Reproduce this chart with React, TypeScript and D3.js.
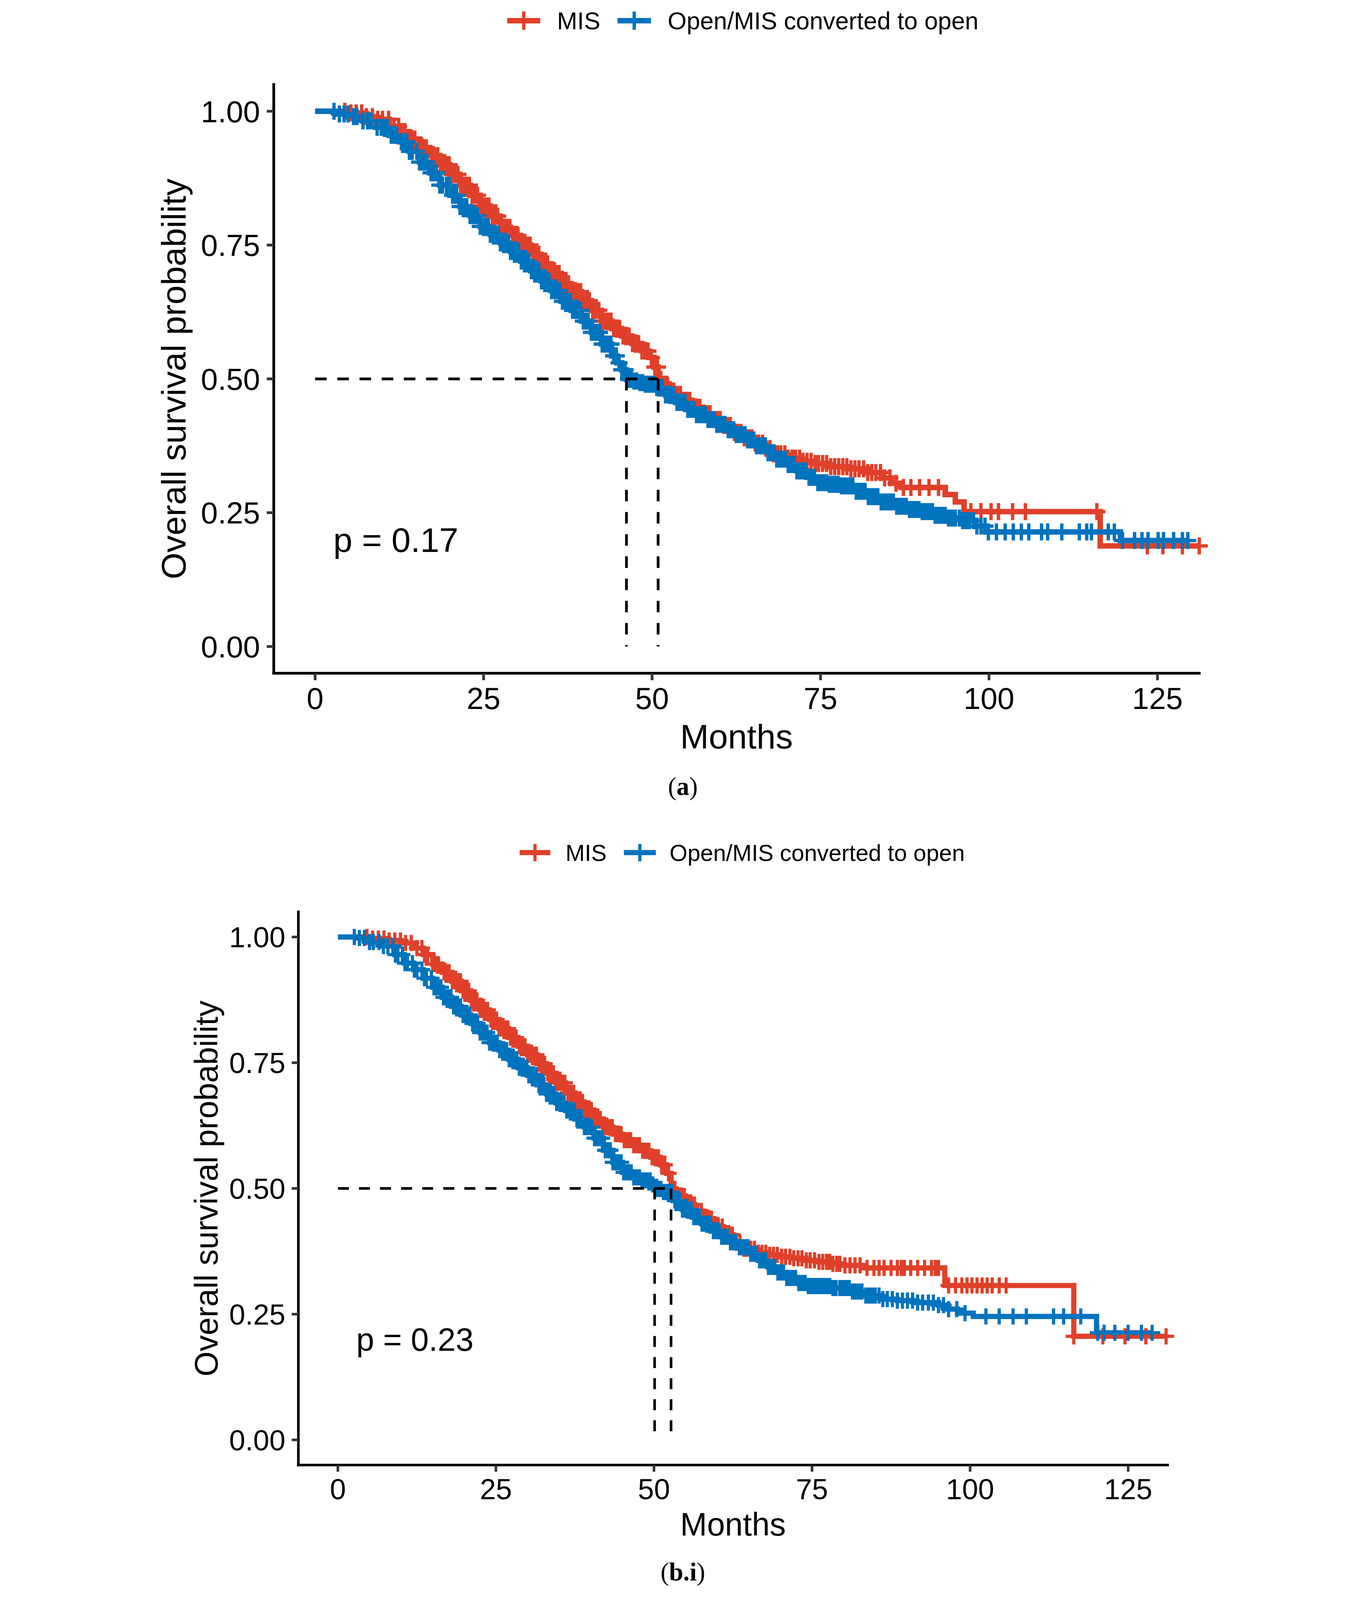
import React from 'react'
import * as d3 from 'd3'

const MIS_COLOR = '#E0402A'
const OPEN_COLOR = '#0073BE'

// Panel (a): Kaplan-Meier step points (months, survival) and censor times
const aMisTime = [0, 5, 7, 9, 11, 12.5, 14, 15.5, 17, 18.5, 20, 21.5, 23, 24.5, 26, 27.5, 29, 30.5, 32, 33.5, 35, 36.5, 38, 39.5, 41, 42.5, 44, 45.5, 47, 48.5, 49.5, 50.3, 50.9, 51.6, 52.3, 53, 54.5, 56, 57.5, 59, 60.5, 62, 63.5, 65, 66.5, 68, 70, 72, 74, 76, 79, 82, 84, 85.5, 87, 93.5, 95, 96.3, 116.5]
const aMisSurv = [1, 0.997, 0.99, 0.985, 0.972, 0.962, 0.948, 0.932, 0.917, 0.9, 0.882, 0.862, 0.843, 0.823, 0.804, 0.783, 0.768, 0.75, 0.733, 0.715, 0.697, 0.678, 0.663, 0.646, 0.628, 0.608, 0.594, 0.58, 0.566, 0.552, 0.54, 0.522, 0.499, 0.49, 0.48, 0.471, 0.46, 0.447, 0.435, 0.424, 0.413, 0.4, 0.39, 0.38, 0.37, 0.36, 0.352, 0.346, 0.342, 0.336, 0.332, 0.325, 0.315, 0.305, 0.297, 0.284, 0.27, 0.252, 0.188]
const aMisCensor = [4.4, 5.3, 6.1, 6.9, 7.6, 8.5, 9.3, 10.0, 10.9, 11.7, 12.4, 13.3, 14.1, 14.8, 15.7, 16.5, 17.3, 18.2, 19.0, 19.9, 20.7, 21.6, 22.4, 23.3, 24.1, 25.0, 25.8, 26.7, 27.5, 28.4, 29.3, 30.1, 31.0, 31.9, 32.7, 33.6, 34.5, 35.4, 36.2, 37.1, 38.0, 38.9, 39.8, 40.7, 41.6, 42.5, 43.4, 44.3, 45.2, 46.1, 47.1, 48.0, 48.9, 49.9, 50.8, 51.8, 52.7, 53.7, 54.6, 55.6, 56.6, 57.6, 58.6, 59.6, 60.6, 61.6, 62.7, 63.7, 64.8, 65.8, 66.9, 68.0, 69.1, 70.2, 71.3, 72.4, 73.6, 74.7, 75.9, 77.1, 78.3, 79.5, 80.7, 82.0, 83.2, 84.5, 86.2, 87.3, 88.4, 89.7, 91.1, 92.5, 97.3, 98.8, 100.3, 101.4, 103.5, 105.4, 116.0, 123.5, 125.8, 128.7, 131.2]
const aMisCensorMore = [12.8, 14.5, 16.1, 17.7, 18.6, 19.5, 20.3, 21.2, 22.0, 22.9, 23.7, 24.6, 25.4, 26.3, 27.1, 28.0, 28.9, 29.7, 30.6, 31.5, 32.3, 33.2, 34.1, 35.0, 35.8, 36.7, 37.6, 38.5, 39.4, 40.3, 41.2, 42.1, 43.0, 43.9, 44.8, 45.7, 46.6, 47.6, 48.5, 49.4, 50.4, 51.3, 52.2, 53.2, 54.2, 55.1, 56.1, 57.1, 58.1, 59.1, 60.1, 61.1, 62.2, 63.2, 64.3, 65.3, 66.4, 67.5, 68.6, 69.7, 70.8, 71.9, 73.0, 74.2, 75.3, 76.5, 77.7, 78.9, 80.1, 81.4, 82.6, 83.9, 85.3]

const aOpenTime = [0, 3, 5, 7, 9, 11, 12.5, 14, 15.5, 17, 18.5, 20, 21.5, 23, 24.5, 26, 27.5, 29, 30.5, 32, 33.5, 35, 36.5, 38, 39.5, 41, 42.5, 44, 44.8, 45.5, 46.2, 47, 47.8, 49, 50.5, 52, 53.5, 55, 56.5, 58, 59.5, 61, 62.5, 64, 65.5, 67, 68.5, 70, 71.5, 73, 74.5, 76, 78, 80, 82, 84, 86, 88, 90, 92, 94, 96, 98, 99.5, 119.5]
const aOpenSurv = [1, 0.995, 0.99, 0.982, 0.97, 0.955, 0.943, 0.925, 0.905, 0.885, 0.862, 0.843, 0.822, 0.805, 0.785, 0.77, 0.754, 0.738, 0.72, 0.702, 0.683, 0.665, 0.645, 0.628, 0.608, 0.587, 0.565, 0.543, 0.53, 0.517, 0.499, 0.496, 0.493, 0.49, 0.484, 0.47, 0.456, 0.443, 0.433, 0.424, 0.415, 0.405, 0.396, 0.386, 0.375, 0.362, 0.35, 0.34, 0.328, 0.316, 0.306, 0.303, 0.3, 0.29, 0.28, 0.27, 0.262, 0.256, 0.252, 0.245, 0.24, 0.235, 0.225, 0.214, 0.198]
const aOpenCensor = [2.8, 3.6, 4.3, 4.9, 5.7, 6.2, 7.1, 7.8, 8.3, 9.2, 9.8, 10.7, 11.3, 12.1, 12.8, 13.6, 14.4, 15.1, 15.9, 16.6, 17.2, 18.0, 18.9, 19.5, 20.4, 21.0, 21.9, 22.5, 23.4, 24.1, 24.8, 25.7, 26.3, 27.2, 27.8, 28.7, 29.4, 30.2, 30.9, 31.7, 32.5, 33.2, 34.0, 34.7, 35.5, 36.3, 37.0, 37.9, 38.6, 39.4, 40.1, 41.0, 41.8, 42.6, 43.5, 44.3, 45.1, 46.0, 46.9, 47.7, 48.6, 49.4, 50.3, 51.1, 52.0, 52.8, 53.7, 54.5, 55.3, 56.2, 57.0, 57.9, 58.7, 59.6, 60.4, 61.3, 62.1, 63.0, 63.8, 64.7, 65.5, 66.4, 67.2, 68.1, 69.0, 69.8, 70.7, 71.5, 72.4, 73.3, 74.1, 75.0, 75.9, 76.8, 77.6, 78.5, 79.4, 80.3, 81.2, 82.1, 83.0, 84.0, 84.9, 85.8, 86.8, 87.7, 88.7, 89.6, 90.6, 91.6, 92.5, 93.5, 94.5, 95.6, 96.6, 97.7, 98.8, 99.9, 101.1, 102.4, 103.6, 104.8, 105.9, 107.8, 108.7, 110.8, 113.4, 114.5, 115.2, 117.7, 118.6, 119.8, 121.6, 122.7, 123.6, 125.1, 125.9, 127.4, 128.7, 129.5]
const aOpenCensorMore = [10.3, 11.7, 13.2, 14.0, 15.5, 16.2, 17.6, 18.5, 19.9, 20.7, 21.5, 22.2, 23.0, 23.8, 24.5, 25.3, 26.0, 26.8, 27.5, 28.3, 29.0, 29.8, 30.6, 31.3, 32.1, 32.9, 33.6, 34.4, 35.1, 35.9, 36.7, 37.4, 38.2, 39.0, 39.8, 40.5, 41.4, 42.2, 43.0, 43.9, 44.7, 45.5, 46.5, 47.3, 48.2, 49.0, 49.9, 50.7, 51.5, 52.4, 53.2, 54.1, 54.9, 55.8, 56.6, 57.4, 58.3, 59.2, 60.0, 60.8, 61.7, 62.5, 63.4, 64.2, 65.1, 65.9, 66.8, 67.6, 68.5, 69.4, 70.2, 71.1, 72.0, 72.8, 73.7, 74.6, 75.5, 76.3, 77.2, 78.1, 79.0, 79.8, 80.7, 81.6, 82.6, 83.5, 84.4, 85.4, 86.3, 87.2, 88.2, 89.1, 90.1, 91.1, 92.0, 93.0, 94.0, 95.0, 96.1, 97.1, 98.2, 99.4]

// Panel (b.i)
const bMisTime = [0, 5, 7.5, 10, 12, 13.5, 15, 16.5, 18, 19.5, 21, 22.5, 24, 25.5, 27, 28.5, 30, 31.5, 33, 34.5, 36, 37.5, 39, 40.5, 42, 43.5, 45, 46.5, 48, 49.5, 51, 52, 52.7, 53.5, 55, 56.5, 58, 59.5, 61, 62.5, 64, 66, 68, 70, 72, 74, 76, 78, 80, 83, 96, 116.4]
const bMisSurv = [1, 0.997, 0.993, 0.988, 0.978, 0.965, 0.946, 0.93, 0.912, 0.893, 0.874, 0.855, 0.836, 0.818, 0.8, 0.783, 0.766, 0.748, 0.729, 0.71, 0.69, 0.672, 0.656, 0.638, 0.622, 0.608, 0.596, 0.586, 0.575, 0.562, 0.547, 0.53, 0.499, 0.485, 0.468, 0.455, 0.44, 0.424, 0.408, 0.392, 0.38, 0.372, 0.368, 0.364, 0.361, 0.357, 0.354, 0.35, 0.347, 0.342, 0.307, 0.206]
const bMisCensor = [4.6, 5.5, 6.4, 7.3, 8.1, 9.0, 9.9, 10.7, 11.6, 12.5, 13.3, 14.2, 15.0, 15.9, 16.8, 17.6, 18.5, 19.4, 20.2, 21.1, 22.0, 22.9, 23.7, 24.6, 25.5, 26.4, 27.3, 28.2, 29.1, 30.0, 30.9, 31.8, 32.7, 33.6, 34.5, 35.4, 36.4, 37.3, 38.2, 39.1, 40.1, 41.0, 42.0, 42.9, 43.9, 44.8, 45.8, 46.8, 47.7, 48.7, 49.7, 50.7, 51.7, 52.8, 53.8, 54.8, 55.9, 56.9, 58.0, 59.1, 60.2, 61.3, 62.4, 63.6, 64.7, 65.9, 67.1, 68.3, 69.5, 70.8, 72.1, 73.4, 74.7, 76.1, 77.3, 78.3, 79.4, 81.0, 82.6, 84.8, 86.4, 88.5, 89.6, 91.7, 93.9, 95.0, 96.6, 98.7, 100.3, 101.9, 103.5, 105.7, 116.4, 121.0, 124.5, 127.8, 131.0]
const bMisCensorMore = [13.7, 15.4, 17.2, 18.1, 19.0, 19.8, 20.7, 21.6, 22.5, 23.3, 24.2, 25.1, 26.0, 26.9, 27.8, 28.7, 29.6, 30.5, 31.4, 32.3, 33.2, 34.1, 35.0, 35.9, 36.9, 37.8, 38.7, 39.6, 40.6, 41.5, 42.5, 43.4, 44.4, 45.3, 46.3, 47.3, 48.2, 49.2, 50.2, 51.2, 52.3, 53.3, 54.3, 55.4, 56.4, 57.5, 58.6, 59.7, 60.8, 61.9, 63.0, 64.2, 65.3, 66.5, 67.7, 68.9, 70.2, 71.5, 72.8, 74.1, 75.4, 76.7, 77.8, 78.9, 80.2, 81.8, 83.7, 85.6, 87.5, 89.1, 90.6, 92.8, 94.5, 97.7, 99.5, 101.1, 102.7, 104.6]

const bOpenTime = [0, 3, 5, 7, 9, 10.5, 12, 13.5, 15, 16.5, 18, 19.5, 21, 22.5, 24, 25.5, 27, 28.5, 30, 31.5, 33, 34.5, 36, 37.5, 39, 40.5, 42, 43.5, 45, 46.5, 48, 49.5, 50.1, 51.5, 53, 54.5, 56, 57.5, 59, 60.5, 62, 63.5, 65, 66.5, 68, 69.5, 71, 72.5, 74, 78, 81, 83, 86, 88.5, 91, 95, 96.5, 98, 100.5, 120]
const bOpenSurv = [1, 0.998, 0.99, 0.982, 0.965, 0.948, 0.935, 0.918, 0.9, 0.88, 0.862, 0.845, 0.828, 0.81, 0.79, 0.775, 0.757, 0.74, 0.725, 0.706, 0.688, 0.67, 0.655, 0.638, 0.622, 0.6, 0.576, 0.552, 0.532, 0.522, 0.516, 0.508, 0.499, 0.493, 0.476, 0.458, 0.443, 0.43, 0.415, 0.404, 0.393, 0.383, 0.37, 0.357, 0.344, 0.333, 0.322, 0.312, 0.306, 0.302, 0.295, 0.287, 0.28, 0.277, 0.273, 0.268, 0.26, 0.252, 0.2455, 0.213]
const bOpenCensor = [2.6, 3.4, 4.2, 5.0, 5.6, 6.5, 7.2, 7.9, 8.7, 9.5, 10.2, 11.0, 11.8, 12.5, 13.3, 14.0, 14.8, 15.6, 16.3, 17.1, 17.9, 18.6, 19.4, 20.2, 20.9, 21.7, 22.5, 23.2, 24.0, 24.8, 25.6, 26.3, 27.1, 27.9, 28.7, 29.5, 30.2, 31.0, 31.8, 32.6, 33.4, 34.2, 35.0, 35.8, 36.6, 37.4, 38.2, 39.0, 39.8, 40.6, 41.4, 42.3, 43.1, 43.9, 44.8, 45.6, 46.4, 47.3, 48.1, 49.0, 49.8, 50.7, 51.5, 52.4, 53.3, 54.1, 55.0, 55.9, 56.8, 57.6, 58.5, 59.4, 60.3, 61.2, 62.1, 63.0, 64.0, 64.9, 65.8, 66.7, 67.7, 68.6, 69.6, 70.5, 71.5, 72.4, 73.4, 74.4, 75.4, 76.4, 77.3, 78.3, 79.4, 80.4, 81.4, 82.4, 83.5, 84.5, 85.6, 86.9, 88.5, 90.1, 91.7, 93.4, 95.0, 96.6, 99.2, 102.5, 104.6, 106.8, 108.9, 113.2, 114.8, 117.5, 120.2, 121.2, 122.9, 125.0, 127.1, 128.8]
const bOpenCensorMore = [9.1, 10.6, 12.1, 13.7, 15.2, 16.0, 16.7, 17.5, 18.3, 19.0, 19.8, 20.6, 21.3, 22.1, 22.9, 23.6, 24.4, 25.2, 26.0, 26.7, 27.5, 28.3, 29.1, 29.9, 30.6, 31.4, 32.2, 33.0, 33.8, 34.6, 35.4, 36.2, 37.0, 37.8, 38.6, 39.4, 40.2, 41.0, 41.8, 42.7, 43.5, 44.3, 45.2, 46.0, 46.8, 47.7, 48.5, 49.4, 50.2, 51.1, 51.9, 52.8, 53.7, 54.5, 55.4, 56.3, 57.2, 58.0, 58.9, 59.8, 60.7, 61.6, 62.5, 63.5, 64.4, 65.3, 66.2, 67.2, 68.1, 69.1, 70.0, 71.0, 71.9, 72.9, 73.9, 74.9, 75.9, 76.9, 77.8, 78.8, 79.9, 80.9, 81.9, 82.9, 84.0, 85.0, 86.2, 87.7, 89.3, 90.9, 92.5, 94.2, 95.8, 97.9]

const aMedians = [46.2, 50.9]
const bMedians = [50.1, 52.7]

const xTicks = [0, 25, 50, 75, 100, 125]
const yTicks = [0, 0.25, 0.5, 0.75, 1]
const legendLabels = ['MIS', 'Open/MIS converted to open']
const pLabels = ['p = 0.17', 'p = 0.23']
const captionLabels = ['a', 'b.i']

const FONT = '"Liberation Sans", Arial, Helvetica, sans-serif'
const SERIF = '"Liberation Serif", "Times New Roman", serif'

const FIG_W = 3497
const FIG_H = 5264

interface Series {
  time: number[]
  surv: number[]
  censor: number[]
  color: string
}

interface Layout {
  left: number
  right: number
  top: number
  bottom: number
  xMin: number
  xMax: number
  tickFont: number
  titleFont: number
  legendFont: number
  legendY: number
  legendKeys: [number, number][]
  legendTextX: number[]
  yTitleX: number
  xTitleY: number
  captionY: number
  pX: number
}

const survAt = (s: Series, t: number) => {
  const i = d3.bisectRight(s.time, t) - 1
  return s.surv[Math.max(0, i)]
}

const Panel: React.FC<{
  layout: Layout
  series: Series[]
  medians: number[]
  pLabel: string
  caption: string
}> = ({ layout: L, series, medians, pLabel, caption }) => {
  const x = d3.scaleLinear().domain([L.xMin, L.xMax]).range([L.left, L.right])
  const y = d3.scaleLinear().domain([-0.05, 1.05]).range([L.bottom, L.top])
  const k = L.tickFont / 100
  const lineW = 18 * k
  const crossH = 28 * k
  const crossW = 11 * k

  const stepLine = d3.line<[number, number]>()
    .x(d => x(d[0]))
    .y(d => y(d[1]))
    .curve(d3.curveStepAfter)

  const cross = (cx: number, cy: number, h: number) =>
    `M${cx - h},${cy}H${cx + h}M${cx},${cy - h}V${cy + h}`

  const paths = series.map(s => {
    const pts: [number, number][] = s.time.map((t, i) => [t, s.surv[i]])
    const end = d3.max(s.censor) as number
    pts.push([end, s.surv[s.surv.length - 1]])
    return stepLine(pts) || ''
  })

  const maxMed = d3.max(medians) as number
  const plotMidX = (L.left + L.right) / 2
  const plotMidY = (L.top + L.bottom) / 2

  return (
    <g>
      {/* legend */}
      {series.map((s, i) => {
        const [k0, k1] = L.legendKeys[i]
        return (
          <g key={'lg' + i}>
            <line x1={k0} x2={k1} y1={L.legendY} y2={L.legendY} stroke={s.color} strokeWidth={lineW} />
            <path d={cross((k0 + k1) / 2, L.legendY, 30 * k)} stroke={s.color} strokeWidth={crossW} fill="none" />
            <text x={L.legendTextX[i]} y={L.legendY + 0.36 * L.legendFont} fontSize={L.legendFont} fontFamily={FONT} fill="#000">
              {legendLabels[i]}
            </text>
          </g>
        )
      })}

      {/* curves */}
      {series.map((s, i) => (
        <path key={'c' + i} d={paths[i]} fill="none" stroke={s.color} strokeWidth={lineW} strokeLinejoin="miter" />
      ))}
      {series.map((s, i) => (
        <path
          key={'m' + i}
          d={s.censor.map(t => cross(x(t), y(survAt(s, t)), crossH)).join('')}
          fill="none"
          stroke={s.color}
          strokeWidth={crossW}
        />
      ))}

      {/* median lines */}
      <g stroke="#000" strokeWidth={9 * k} strokeDasharray={`${38 * k} ${35 * k}`} fill="none">
        <line x1={x(0)} x2={x(maxMed)} y1={y(0.5)} y2={y(0.5)} />
        {medians.map((m, i) => (
          <line key={'md' + i} x1={x(m)} x2={x(m)} y1={y(0.5)} y2={y(0)} />
        ))}
      </g>

      {/* p value */}
      <text x={x(L.pX)} y={y(0.2) + 0.36 * L.titleFont} fontSize={L.titleFont} fontFamily={FONT} fill="#000">
        {pLabel}
      </text>

      {/* axes */}
      <line x1={L.left} x2={L.left} y1={L.top} y2={L.bottom} stroke="#000" strokeWidth={9 * k} strokeLinecap="square" />
      <line x1={L.left} x2={L.right} y1={L.bottom} y2={L.bottom} stroke="#000" strokeWidth={9 * k} strokeLinecap="square" />
      {yTicks.map(t => (
        <g key={'yt' + t}>
          <line x1={L.left - 23 * k} x2={L.left} y1={y(t)} y2={y(t)} stroke="#333" strokeWidth={9 * k} />
          <text
            x={L.left - 45 * k}
            y={y(t) + 0.36 * L.tickFont}
            fontSize={L.tickFont}
            fontFamily={FONT}
            textAnchor="end"
            fill="#000"
          >
            {t.toFixed(2)}
          </text>
        </g>
      ))}
      {xTicks.map(t => (
        <g key={'xt' + t}>
          <line x1={x(t)} x2={x(t)} y1={L.bottom} y2={L.bottom + 23 * k} stroke="#333" strokeWidth={9 * k} />
          <text
            x={x(t)}
            y={L.bottom + 1.18 * L.tickFont}
            fontSize={L.tickFont}
            fontFamily={FONT}
            textAnchor="middle"
            fill="#000"
          >
            {t}
          </text>
        </g>
      ))}
      <text x={plotMidX} y={L.xTitleY} fontSize={L.titleFont} fontFamily={FONT} textAnchor="middle" fill="#000">
        Months
      </text>
      <text
        transform={`translate(${L.yTitleX},${plotMidY}) rotate(-90)`}
        fontSize={L.titleFont}
        fontFamily={FONT}
        textAnchor="middle"
        fill="#000"
      >
        Overall survival probability
      </text>

      {/* caption */}
      <text x={1748} y={L.captionY} fontSize={84} fontFamily={SERIF} textAnchor="middle" fill="#000">
        (<tspan fontWeight="bold">{caption}</tspan>)
      </text>
    </g>
  )
}

const layoutA: Layout = {
  left: 402, right: 3447, top: 278, bottom: 2215,
  xMin: -6.14, xMax: 131.2,
  tickFont: 100, titleFont: 113, legendFont: 80,
  legendY: 68,
  legendKeys: [[1170, 1279], [1533, 1643]],
  legendTextX: [1334, 1698],
  yTitleX: 112, xTitleY: 2462, captionY: 2615, pX: 2.7
}

const layoutB: Layout = {
  left: 483, right: 3343, top: 3000, bottom: 4820,
  xMin: -6.25, xMax: 131.25,
  tickFont: 95, titleFont: 106, legendFont: 76,
  legendY: 2805,
  legendKeys: [[1211, 1312], [1554, 1659]],
  legendTextX: [1362, 1704],
  yTitleX: 217, xTitleY: 5052, captionY: 5200, pX: 2.9
}

export default function App() {
  const seriesA: Series[] = [
    { time: aMisTime, surv: aMisSurv, censor: aMisCensor.concat(aMisCensorMore), color: MIS_COLOR },
    { time: aOpenTime, surv: aOpenSurv, censor: aOpenCensor.concat(aOpenCensorMore), color: OPEN_COLOR }
  ]
  const seriesB: Series[] = [
    { time: bMisTime, surv: bMisSurv, censor: bMisCensor.concat(bMisCensorMore), color: MIS_COLOR },
    { time: bOpenTime, surv: bOpenSurv, censor: bOpenCensor.concat(bOpenCensorMore), color: OPEN_COLOR }
  ]

  // fit the whole figure into the visible window
  const vw = typeof window !== 'undefined' ? window.innerWidth : FIG_W
  const vh = typeof window !== 'undefined' ? window.innerHeight : FIG_H
  const s = Math.min(1, vw / FIG_W, vh / FIG_H)
  const w = FIG_W * s
  const h = FIG_H * s

  return (
    <svg
      width={w}
      height={h}
      viewBox={`0 0 ${FIG_W} ${FIG_H}`}
      style={{ position: 'absolute', left: Math.max(0, (vw - w) / 2), top: 0, background: '#fff' }}
    >
      <rect width={FIG_W} height={FIG_H} fill="#fff" />
      <Panel layout={layoutA} series={seriesA} medians={aMedians} pLabel={pLabels[0]} caption={captionLabels[0]} />
      <Panel layout={layoutB} series={seriesB} medians={bMedians} pLabel={pLabels[1]} caption={captionLabels[1]} />
    </svg>
  )
}
